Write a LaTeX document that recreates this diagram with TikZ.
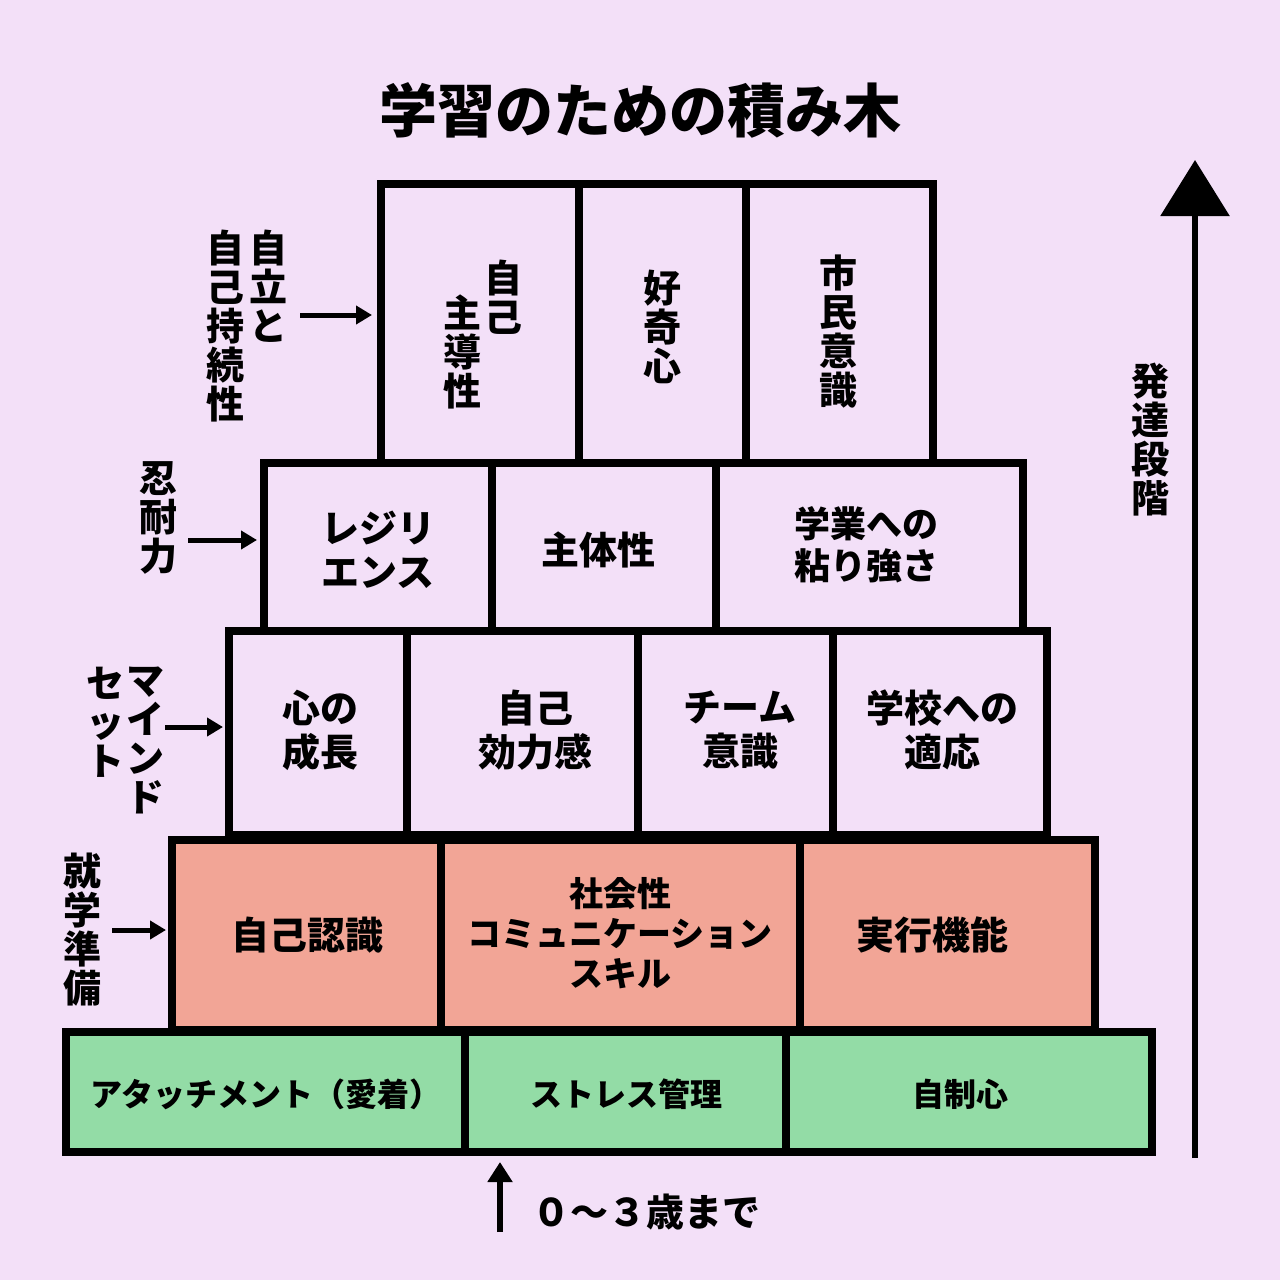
\documentclass[tikz,border=0pt]{standalone}
\usepackage{fontspec}
\setmainfont{Noto Sans CJK JP}[BoldFont={Noto Sans CJK JP Black}]
\usetikzlibrary{arrows.meta}
\definecolor{bg}{HTML}{F3E0F8}
\definecolor{grn}{HTML}{93DCA6}
\definecolor{sal}{HTML}{F2A596}
\tikzset{
 blk/.style={draw=black,line width=4pt,fill=bg},
 txt/.style={font=\bfseries\fontsize{19}{22}\selectfont,align=center},
 vtxt/.style={font=\bfseries\fontsize{19}{19.5}\selectfont,align=center,anchor=north},
 lbl/.style={-{Triangle[length=8pt,width=9pt]},line width=2.5pt},
}
\begin{document}
\begin{tikzpicture}[x=0.5pt,y=-0.5pt]
\fill[bg] (0,0) rectangle (1280,1280);
\node[font=\bfseries\fontsize{29}{32}\selectfont] (title) at (640,110) {学習のための積み木};
% row 1
\draw[blk] (381,184) rectangle (579,463);
\draw[blk] (579,184) rectangle (746,463);
\draw[blk] (746,184) rectangle (933,463);
\node[vtxt] (a1) at (503,253) {自\\己};
\node[vtxt] (a2) at (462,288) {主\\導\\性};
\node[vtxt] (a3) at (662,263) {好\\奇\\心};
\node[vtxt] (a4) at (838,248) {市\\民\\意\\識};
% row 2
\draw[blk] (264,463) rectangle (492,631);
\draw[blk] (492,463) rectangle (716,631);
\draw[blk] (716,463) rectangle (1023,631);
\node[txt] (b1) at (378,550) {レジリ\\エンス};
\node[txt] (b2) at (598,550) {主体性};
\node[txt,font=\bfseries\fontsize{18}{21}\selectfont] (b3) at (866,545) {学業への\\粘り強さ};
% row 3
\draw[blk] (229,631) rectangle (407,835);
\draw[blk] (407,631) rectangle (638,835);
\draw[blk] (638,631) rectangle (833,835);
\draw[blk] (833,631) rectangle (1047,835);
\node[txt] (c1) at (320,730) {心の\\成長};
\node[txt] (c2) at (535,730) {自己\\効力感};
\node[txt] (c3) at (740,730) {チーム\\意識};
\node[txt] (c4) at (942,730) {学校への\\適応};
% row 4
\draw[blk,fill=sal] (172,840) rectangle (441,1030);
\draw[blk,fill=sal] (441,840) rectangle (800,1030);
\draw[blk,fill=sal] (800,840) rectangle (1095,1030);
\node[txt] (d1) at (307,935) {自己認識};
\node[txt,font=\bfseries\fontsize{17}{20}\selectfont] (d2) at (620,933) {社会性\\コミュニケーション\\スキル};
\node[txt] (d3) at (932,935) {実行機能};
% row 5
\draw[blk,fill=grn] (66,1032) rectangle (465,1152);
\draw[blk,fill=grn] (465,1032) rectangle (786,1152);
\draw[blk,fill=grn] (786,1032) rectangle (1152,1152);
\node[txt,font=\bfseries\fontsize{16}{18}\selectfont] (e1) at (266,1094) {アタッチメント（愛着）};
\node[txt,font=\bfseries\fontsize{16}{18}\selectfont] (e2) at (626,1094) {ストレス管理};
\node[txt,font=\bfseries\fontsize{16}{18}\selectfont] (e3) at (960,1094) {自制心};
% left labels
\node[vtxt] (l1a) at (268,223) {自\\立\\と};
\node[vtxt] (l1b) at (225,223) {自\\己\\持\\続\\性};
\coordinate (p1) at (300,315); \coordinate (q1) at (372,315);
\draw[lbl] (p1) -- (q1);
\node[vtxt] (l2) at (158,455) {忍\\耐\\力};
\coordinate (p2) at (188,540); \coordinate (q2) at (257,540);
\draw[lbl] (p2) -- (q2);
\node[vtxt] (l3a) at (145,660) {マ\\イ\\ン\\ド};
\node[vtxt] (l3b) at (105,660) {セ\\ッ\\ト};
\coordinate (p3) at (165,727); \coordinate (q3) at (223,727);
\draw[lbl] (p3) -- (q3);
\node[vtxt] (l4) at (82,846) {就\\学\\準\\備};
\coordinate (p4) at (112,930); \coordinate (q4) at (166,930);
\draw[lbl] (p4) -- (q4);
% right arrow
\coordinate (r0) at (1195,1158); \coordinate (r1) at (1195,160);
\draw[-{Triangle[length=28pt,width=34pt]},line width=3pt] (r0) -- (r1);
\node[vtxt] (rt) at (1150,356) {発\\達\\段\\階};
% bottom
\coordinate (s0) at (500,1232); \coordinate (s1) at (500,1162);
\draw[-{Triangle[length=10pt,width=12pt]},line width=3pt] (s0) -- (s1);
\node[font=\bfseries\fontsize{19}{21}\selectfont,anchor=west] (bt) at (525,1212) {０～３歳まで};
\end{tikzpicture}
\end{document}
